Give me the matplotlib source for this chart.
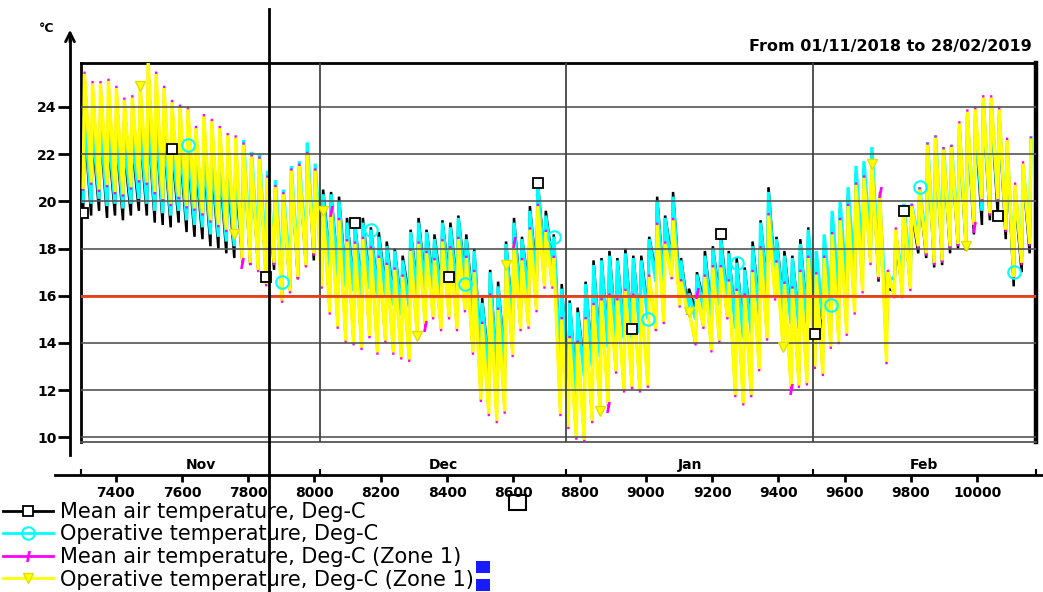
import numpy as np
import matplotlib
matplotlib.use('Agg')
import matplotlib.pyplot as plt
import matplotlib.transforms as mtransforms
from matplotlib.lines import Line2D
from matplotlib.patches import Rectangle, FancyArrowPatch

# Daily low / high temperatures, 1 Nov 2018 .. 28 Feb 2019 (120 days)
# hour-of-year axis: 1 Nov = 7296, 28 Feb end = 10176 (Jan/Feb continue past 8760)
START_HOUR = 7296
END_HOUR = 10176
N_DAYS = 120

month_names = ['Nov', 'Dec', 'Jan', 'Feb']
month_starts = [7296, 8016, 8760, 9504, 10176]
hour_ticks = list(range(7400, 10001, 200))
temp_ticks = list(range(10, 25, 2))
setpoint = 16.0

# Operative temperature, Deg-C (Zone 1)
op_z1_hi = [25.4, 25.0, 25.0, 25.1, 24.8, 24.3, 24.4, 24.9, 25.9, 25.4, 24.8, 24.2, 24.0, 23.9, 23.1, 23.6, 23.4, 23.1, 22.8, 22.7,
            22.4, 21.9, 21.8, 21.0, 20.6, 20.3, 21.3, 21.5, 22.0, 21.3,
            19.6, 19.5, 19.2, 18.3, 18.2, 18.4, 18.0, 17.6, 17.3, 17.1,
            16.8, 17.9, 18.2, 17.8, 17.5, 18.3, 18.0, 18.4, 17.6, 17.0, 14.8, 16.0, 15.4, 17.3, 18.2, 17.5, 18.8, 19.8, 18.7, 17.6,
            15.0, 14.2, 14.0, 15.0, 15.6, 15.8, 16.0, 15.8, 16.2, 16.0, 15.9, 16.8, 19.0, 18.2, 19.2, 16.6, 15.3, 16.0, 16.8, 17.2,
            17.2, 16.6, 16.2, 16.0, 17.0, 18.0, 19.4, 17.4, 16.5, 16.3, 17.0, 17.6, 16.9, 17.6, 18.6, 19.2, 19.8, 20.7, 21.0, 21.6,
            20.3, 17.0, 18.8, 19.7, 19.8, 20.5, 22.4, 22.7, 22.2, 22.3, 23.3, 23.8, 23.9, 24.4, 24.4, 23.9, 22.6, 20.7, 21.6, 22.6]
op_z1_lo = [20.6, 20.8, 20.5, 20.7, 20.4, 20.3, 20.6, 20.9, 20.8, 20.4, 20.1, 19.9, 20.2, 19.8, 19.7, 19.5, 19.2, 19.0, 18.8, 18.6,
            17.5, 17.4, 17.1, 16.5, 17.4, 15.8, 16.2, 16.8, 17.3, 17.8,
            16.4, 15.3, 14.7, 14.1, 14.0, 13.8, 14.3, 13.6, 14.1, 13.6,
            13.4, 13.3, 14.3, 14.8, 15.1, 14.6, 15.1, 14.6, 15.4, 13.6, 11.6, 11.0, 10.7, 11.1, 13.5, 14.6, 14.7, 15.4, 16.4, 16.4,
            11.0, 10.45, 10.0, 9.9, 10.7, 11.1, 11.4, 12.8, 12.0, 12.15, 12.0, 12.2, 14.6, 14.9, 16.8, 15.6, 15.3, 14.0, 14.7, 13.7,
            14.1, 15.1, 11.8, 11.45, 11.8, 12.9, 14.2, 15.9, 13.85, 12.15, 12.2, 12.3, 13.0, 12.7, 13.85, 14.05, 14.4, 15.3, 16.2, 17.4,
            16.8, 13.2, 16.0, 16.0, 16.3, 18.1, 17.8, 17.4, 17.5, 18.1, 18.2, 18.1, 19.0, 20.1, 19.5, 20.1, 18.8, 16.8, 17.4, 18.2]

# Operative temperature, Deg-C
op_hi = [23.6, 23.2, 23.4, 23.0, 23.0, 22.6, 22.8, 23.2, 23.7, 23.4, 23.0, 22.6, 22.6, 22.4, 22.0, 22.2, 22.0, 21.8, 21.6, 21.4,
         22.6, 22.1, 22.0, 21.3, 20.9, 20.5, 21.5, 21.7, 22.5, 21.6,
         20.3, 20.3, 20.0, 19.1, 19.0, 19.1, 18.8, 18.5, 18.1, 17.9,
         17.5, 18.7, 19.1, 18.7, 18.4, 19.1, 18.9, 19.3, 18.4, 17.9, 15.7, 17.0, 16.4, 18.2, 19.1, 18.4, 19.6, 20.7, 19.4, 18.5,
         16.3, 15.7, 15.3, 16.5, 17.3, 17.5, 17.7, 17.5, 17.8, 17.6, 17.5, 18.4, 20.0, 19.3, 20.2, 17.5, 16.1, 16.9, 17.7, 18.0,
         18.4, 17.8, 17.4, 17.1, 18.1, 19.1, 20.4, 18.4, 17.7, 17.6, 18.2, 18.8, 17.9, 18.6, 19.6, 20.0, 20.6, 21.5, 21.7, 22.3,
         20.0, 16.6, 18.6, 19.9, 19.9, 20.6, 22.5, 22.8, 22.3, 22.4, 23.1, 23.6, 23.7, 24.2, 24.2, 23.7, 22.4, 20.5, 21.5, 22.7]
op_lo = [20.0, 19.9, 20.1, 19.8, 19.9, 19.7, 19.9, 20.1, 19.9, 19.6, 19.5, 19.4, 19.6, 19.2, 19.0, 18.9, 18.6, 18.5, 18.3, 18.1,
         18.0, 17.8, 17.6, 17.3, 17.6, 16.6, 16.8, 17.2, 17.8, 18.0,
         17.6, 17.2, 16.8, 16.4, 16.2, 16.0, 16.3, 15.9, 16.0, 15.6,
         15.2, 15.5, 16.0, 16.2, 16.3, 16.0, 16.4, 16.1, 16.5, 15.2, 13.2, 12.7, 12.5, 12.9, 14.6, 15.6, 16.0, 16.5, 17.2, 17.0,
         12.8, 12.0, 11.8, 12.6, 13.0, 13.4, 13.8, 14.0, 14.2, 14.2, 14.4, 15.0, 16.6, 16.2, 17.2, 16.0, 15.2, 15.0, 15.4, 15.0,
         15.6, 15.4, 14.6, 14.2, 14.4, 15.2, 16.0, 16.4, 15.4, 14.8, 14.6, 14.8, 15.0, 15.0, 15.6, 16.0, 16.2, 16.8, 17.4, 18.0,
         17.2, 15.0, 16.8, 16.8, 17.0, 18.4, 18.2, 17.8, 17.9, 18.4, 18.6, 18.5, 19.2, 19.6, 19.8, 20.0, 19.0, 17.0, 17.6, 18.4]

# Mean air temperature, Deg-C
air_hi = [23.2, 22.8, 23.0, 22.6, 22.6, 22.2, 22.4, 22.8, 23.3, 23.0, 22.6, 22.2, 22.2, 22.0, 21.6, 21.8, 21.6, 21.4, 21.2, 21.0,
          22.2, 21.7, 21.6, 20.9, 20.5, 20.1, 21.1, 21.3, 22.1, 21.2,
          20.5, 20.4, 20.2, 19.3, 19.1, 19.3, 18.9, 18.7, 18.3, 18.0,
          17.7, 18.8, 19.3, 18.8, 18.6, 19.2, 19.1, 19.4, 18.6, 18.0, 15.9, 17.1, 16.6, 18.3, 19.3, 18.5, 19.8, 20.8, 19.6, 18.6,
          16.5, 15.8, 15.5, 16.6, 17.5, 17.6, 17.9, 17.6, 18.0, 17.7, 17.7, 18.5, 20.2, 19.4, 20.4, 17.6, 16.3, 17.0, 17.9, 18.1,
          18.6, 17.9, 17.6, 17.2, 18.3, 19.2, 20.6, 18.5, 17.9, 17.7, 18.4, 18.9, 17.6, 18.3, 19.3, 19.7, 20.3, 21.2, 21.4, 22.0,
          19.7, 16.3, 18.3, 19.6, 19.6, 20.3, 22.2, 22.5, 22.0, 22.1, 22.8, 23.3, 23.4, 23.9, 23.9, 23.4, 22.1, 20.2, 21.2, 22.4]
air_lo = [19.5, 19.4, 19.6, 19.3, 19.4, 19.2, 19.4, 19.6, 19.4, 19.1, 19.0, 18.9, 19.1, 18.7, 18.5, 18.4, 18.1, 18.0, 17.8, 17.6,
          17.5, 17.3, 17.1, 16.8, 17.1, 16.1, 16.3, 16.7, 17.3, 17.5,
          18.0, 17.6, 17.2, 16.8, 16.6, 16.4, 16.7, 16.3, 16.4, 16.0,
          15.6, 15.9, 16.4, 16.6, 16.7, 16.4, 16.8, 16.5, 16.9, 15.6, 13.6, 13.1, 12.9, 13.3, 15.0, 16.0, 16.4, 16.9, 17.6, 17.4,
          13.2, 12.4, 12.2, 13.0, 13.4, 13.8, 14.2, 14.4, 14.6, 14.6, 14.8, 15.4, 17.0, 16.6, 17.6, 16.4, 15.6, 15.4, 15.8, 15.4,
          16.0, 15.8, 15.0, 14.6, 14.8, 15.6, 16.4, 16.8, 15.8, 15.2, 15.0, 15.2, 14.4, 14.4, 15.0, 15.4, 15.6, 16.2, 16.8, 17.4,
          16.6, 14.4, 16.2, 16.2, 16.4, 17.8, 17.6, 17.2, 17.3, 17.8, 18.0, 17.9, 18.6, 19.0, 19.2, 19.4, 18.4, 16.4, 17.0, 17.8]

# Mean air temperature, Deg-C (Zone 1)
air_z1_hi = [25.5, 25.1, 25.1, 25.2, 24.9, 24.4, 24.5, 25.0, 26.0, 25.5, 24.9, 24.3, 24.1, 24.0, 23.2, 23.7, 23.5, 23.2, 22.9, 22.8,
             22.5, 22.0, 21.9, 21.1, 20.7, 20.4, 21.4, 21.6, 22.1, 21.4,
             19.7, 19.6, 19.3, 18.4, 18.3, 18.5, 18.1, 17.7, 17.4, 17.2,
             16.9, 18.0, 18.3, 17.9, 17.6, 18.4, 18.1, 18.5, 17.7, 17.1, 14.9, 16.1, 15.5, 17.4, 18.3, 17.6, 18.9, 19.9, 18.8, 17.7,
             15.1, 14.3, 14.1, 15.1, 15.7, 15.9, 16.1, 15.9, 16.3, 16.1, 16.0, 16.9, 19.1, 18.3, 19.3, 16.7, 15.4, 16.1, 16.9, 17.3,
             17.3, 16.7, 16.3, 16.1, 17.1, 18.1, 19.5, 17.5, 16.6, 16.4, 17.1, 17.7, 17.0, 17.7, 18.7, 19.3, 19.9, 20.8, 21.1, 21.7,
             20.4, 17.1, 18.9, 19.8, 19.9, 20.6, 22.5, 22.8, 22.3, 22.4, 23.4, 23.9, 24.0, 24.5, 24.5, 24.0, 22.7, 20.8, 21.7, 22.7]
air_z1_lo = [20.5, 20.7, 20.4, 20.6, 20.3, 20.2, 20.5, 20.8, 20.7, 20.3, 20.0, 19.8, 20.1, 19.7, 19.6, 19.4, 19.1, 18.9, 18.7, 18.5,
             17.4, 17.3, 17.0, 16.4, 17.3, 15.7, 16.1, 16.7, 17.2, 17.7,
             16.3, 15.2, 14.6, 14.0, 13.9, 13.7, 14.2, 13.5, 14.0, 13.5,
             13.3, 13.2, 14.2, 14.7, 15.0, 14.5, 15.0, 14.5, 15.3, 13.5, 11.5, 10.9, 10.6, 11.0, 13.4, 14.5, 14.6, 15.3, 16.3, 16.3,
             10.9, 10.35, 9.9, 9.8, 10.6, 11.0, 11.3, 12.7, 11.9, 12.05, 11.9, 12.1, 14.5, 14.8, 16.7, 15.5, 15.2, 13.9, 14.6, 13.6,
             14.0, 15.0, 11.7, 11.35, 11.7, 12.8, 14.1, 15.8, 13.75, 12.05, 12.1, 12.2, 12.9, 12.6, 13.75, 13.95, 14.3, 15.2, 16.1, 17.3,
             16.7, 13.1, 15.9, 15.9, 16.2, 18.0, 17.7, 17.3, 17.4, 18.0, 18.1, 18.0, 18.9, 20.0, 19.4, 20.0, 18.7, 16.7, 17.3, 18.1]

series_labels = ['Mean air temperature, Deg-C',
                 'Operative temperature, Deg-C',
                 'Mean air temperature, Deg-C (Zone 1)',
                 'Operative temperature, Deg-C (Zone 1)']

LO_HOUR = 6     # time of the daily low
HI_HOUR = 10    # time of the daily high (heating comes on quickly)
CURSOR_HOUR = 7864


def day_series(lo, hi):
    days = np.arange(N_DAYS)
    x = np.empty(2 * N_DAYS)
    y = np.empty(2 * N_DAYS)
    x[0::2] = START_HOUR + 24 * days + LO_HOUR
    x[1::2] = START_HOUR + 24 * days + HI_HOUR
    y[0::2] = lo
    y[1::2] = hi
    return x, y


W, H = 1043, 592
fig = plt.figure(figsize=(W / 100, H / 100), dpi=100)


def fx(px):
    return px / W


def fy(py):
    return 1 - py / H


# plot box
L, R, T, B = 81.2, 1035.6, 63, 442
ax = fig.add_axes([fx(L), fy(B), fx(R) - fx(L), fy(T) - fy(B)])
ax.set_xlim(START_HOUR, END_HOUR)
ax.set_ylim(9.805, 25.864)
ax.set_xticks([])
ax.set_yticks([])
px_per_hour = (R - L) / (END_HOUR - START_HOUR)
px_per_deg = (B - T) / (25.864 - 9.805)

styles = [
    (air_lo, air_hi, 'black', 's', dict(mfc='white', mec='black', ms=7, mew=1.3), (0, 23), 1.8),
    (op_lo, op_hi, '#00ffff', 'o', dict(mfc='none', mec='#00ffff', ms=9, mew=1.5), (27, 23), 2.4),
    (air_z1_lo, air_z1_hi, '#ff00ff', '$I$', dict(mfc='#ff00ff', mec='#ff00ff', ms=7), (40, 23), 1.6),
    (op_z1_lo, op_z1_hi, '#ffff00', 'v', dict(mfc='#ffff00', mec='#e0e000', ms=7), (15, 23), 2.4),
]
for i, (lo, hi, col, mk, mkw, every, lw) in enumerate(styles):
    x, y = day_series(lo, hi)
    ax.plot(x, y, color=col, lw=lw, zorder=2 + i, solid_joinstyle='miter')
    ax.plot(x, y, ls='none', marker=mk, markevery=every, zorder=9, **mkw)

# grid over the traces
for v in temp_ticks:
    ax.axhline(v, color='#555555', lw=1.2, zorder=7)
for m in month_starts[1:-1]:
    ax.axvline(m, color='#444444', lw=1.3, zorder=7)
ax.axhline(setpoint, color='#e8401c', lw=2, zorder=8)

for side in ['left', 'top']:
    ax.spines[side].set_linewidth(2)
ax.spines['right'].set_linewidth(3.2)
ax.spines['bottom'].set_color('#555555')
ax.spines['bottom'].set_linewidth(1.3)

# hour axis below the plot
def hour_at(px):
    return START_HOUR + (px - L) / px_per_hour

bax = fig.add_axes([fx(55), fy(475), fx(1043) - fx(55), 0.0001])
bax.set_xlim(hour_at(55), hour_at(1043))
bax.set_yticks([])
for side in ['left', 'right', 'top']:
    bax.spines[side].set_visible(False)
bax.spines['bottom'].set_linewidth(2)
bax.set_xticks(hour_ticks)
bax.set_xticklabels([str(h) for h in hour_ticks], fontsize=10, fontweight='bold')
bax.tick_params(axis='x', which='major', direction='out', length=5, width=2, pad=3)
bax.set_xticks(month_starts, minor=True)
bax.tick_params(axis='x', which='minor', direction='in', length=4, width=1.5)
bax.patch.set_visible(False)

blend = mtransforms.blended_transform_factory(ax.transData, fig.transFigure)
for name, a, b in zip(month_names, month_starts[:-1], month_starts[1:]):
    ax.text((a + b) / 2, fy(465), name, transform=blend, ha='center', va='center',
            fontsize=10, fontweight='bold')

# temperature axis on the left
def temp_at(py):
    return 9.805 + (B - py) / px_per_deg

yax = fig.add_axes([fx(70), fy(455), 0.0001, fy(40) - fy(455)])
yax.set_ylim(temp_at(455), temp_at(40))
yax.set_xticks([])
for side in ['bottom', 'right', 'top']:
    yax.spines[side].set_visible(False)
yax.spines['left'].set_linewidth(2)
yax.set_yticks(temp_ticks)
yax.set_yticklabels([str(t) for t in temp_ticks], fontsize=10, fontweight='bold')
yax.tick_params(axis='y', direction='out', length=8.5, width=2, pad=1)
yax.patch.set_visible(False)

fig.add_artist(FancyArrowPatch((fx(70), fy(45)), (fx(70), fy(27)), transform=fig.transFigure,
                               arrowstyle='->', mutation_scale=16, lw=2, color='black'))
fig.text(fx(47), fy(29), '°C', fontsize=9, fontweight='bold', ha='center', va='center')
fig.text(fx(1032), fy(47), 'From 01/11/2018 to 28/02/2019', fontsize=11.5,
         fontweight='bold', ha='right', va='center')

# cursor line
fig.add_artist(Line2D([CURSOR_HOUR, CURSOR_HOUR], [fy(592), fy(9)], transform=blend,
                      color='black', lw=2, zorder=20))

# legend
handles = []
for lo, hi, col, mk, mkw, every, lw in styles:
    handles.append(Line2D([0], [0], color=col, lw=2, marker=mk, **mkw))
fig.legend(handles, series_labels, loc='upper left', bbox_to_anchor=(fx(3), fy(502)),
           bbox_transform=fig.transFigure, frameon=False, fontsize=15, handlelength=2.4,
           handletextpad=0.35, labelspacing=0.12, borderpad=0, borderaxespad=0)

# small widgets around the legend
fig.add_artist(Rectangle((fx(509), fy(510)), fx(17), 15 / H, transform=fig.transFigure,
                         fill=False, ec='black', lw=1.5))
fig.add_artist(Rectangle((fx(476), fy(573)), fx(14), 12 / H, transform=fig.transFigure,
                         fc='#1a1aff', ec='none'))
fig.add_artist(Rectangle((fx(476), fy(591)), fx(14), 12 / H, transform=fig.transFigure,
                         fc='#1a1aff', ec='none'))

fig.savefig('out.png', dpi=100)
